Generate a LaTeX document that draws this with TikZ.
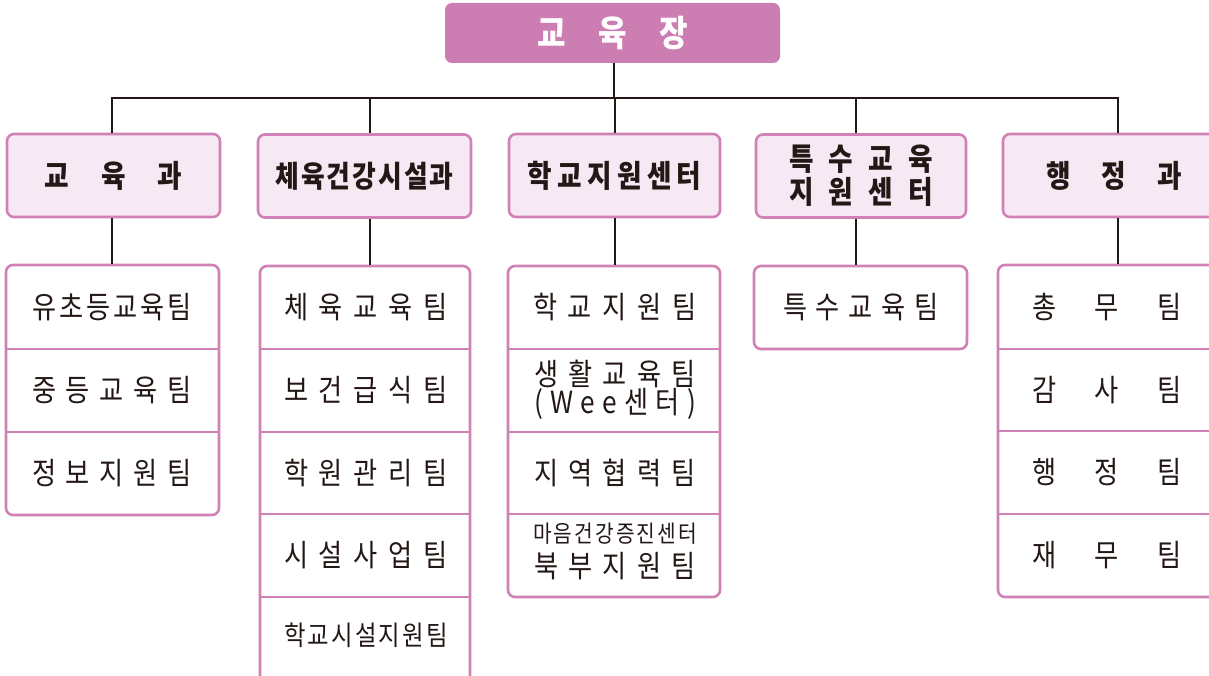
\documentclass[tikz,border=0pt]{standalone}
\usepackage{fontspec}
\setmainfont{Noto Sans CJK KR}[FakeStretch=0.86]
\definecolor{topc}{HTML}{CC7DB1}
\definecolor{bord}{HTML}{D081B6}
\definecolor{dfill}{HTML}{F6E9F4}
\definecolor{ink}{HTML}{231815}
\newcommand\sprd[2]{\makebox[#1][s]{#2}}
\begin{document}
\begin{tikzpicture}[x=1pt,y=-1pt,
  topbox/.style={fill=topc, rounded corners=7pt, inner sep=0pt, text=white,
    font=\fontsize{36}{40}\selectfont\bfseries},
  deptbox/.style={draw=bord, line width=2.6pt, fill=dfill, rounded corners=7pt,
    minimum height=83pt, inner sep=0pt, text=ink, font=\fontsize{31}{33}\selectfont\bfseries},
  colbox/.style={draw=bord, line width=2.6pt, rounded corners=7pt, inner sep=0pt, fill=white},
  team/.style={inner sep=0pt, text=ink, font=\fontsize{30.5}{34}\selectfont},
  conn/.style={draw=ink, line width=1.3pt},
  divline/.style={draw=bord, line width=2.6pt}]
\useasboundingbox (0,0) rectangle (1209,676);

\coordinate (j) at (614,98);
\coordinate (c1) at (112,98);
\coordinate (c2) at (370,98);
\coordinate (c3) at (615,98);
\coordinate (c4) at (856,98);
\coordinate (c5) at (1118,98);

% top
\node[topbox, minimum width=335pt, minimum height=60pt] (top) at (612.5,33)
  {\sprd{151pt}{교\hfill 육\hfill 장}};

% departments
\node[deptbox, minimum width=213pt] (d1) at (113.5,175.5)
  {\sprd{138pt}{교\hfill 육\hfill 과}};
\node[deptbox, minimum width=213pt, font=\fontsize{30}{33}\selectfont\bfseries] (d2) at (364.5,176)
  {\sprd{178pt}{체\hfill 육\hfill 건\hfill 강\hfill 시\hfill 설\hfill 과}};
\node[deptbox, minimum width=211pt] (d3) at (614.5,175.5)
  {\sprd{174pt}{학\hfill 교\hfill 지\hfill 원\hfill 센\hfill 터}};
\node[deptbox, minimum width=210pt, align=center] (d4) at (861,176)
  {\sprd{144pt}{특\hfill 수\hfill 교\hfill 육}\\\sprd{144pt}{지\hfill 원\hfill 센\hfill 터}};
\node[deptbox, minimum width=219pt] (d5) at (1112.5,175.5)
  {\hspace{3pt}\sprd{136pt}{행\hfill 정\hfill 과}};

% team columns
\node[colbox, minimum width=213pt, minimum height=250pt] (t1) at (112.5,390) {};
\node[colbox, minimum width=210pt, minimum height=424pt] (t2) at (365,478) {};
\node[colbox, minimum width=212pt, minimum height=331pt] (t3) at (614,431.5) {};
\node[colbox, minimum width=213pt, minimum height=83pt] (t4) at (860.5,307.5) {};
\node[colbox, minimum width=227pt, minimum height=332pt] (t5) at (1111.5,431) {};

% connectors
\draw[conn] (j |- top.south) -- (j);
\draw[conn] (c1 |- d1.north) -- (c1) -- (c5) -- (c5 |- d5.north);
\draw[conn] (c2) -- (c2 |- d2.north);
\draw[conn] (c3) -- (c3 |- d3.north);
\draw[conn] (c4) -- (c4 |- d4.north);
\draw[conn] (c1 |- d1.south) -- (c1 |- t1.north);
\draw[conn] (c2 |- d2.south) -- (c2 |- t2.north);
\draw[conn] (c3 |- d3.south) -- (c3 |- t3.north);
\draw[conn] (c4 |- d4.south) -- (c4 |- t4.north);
\draw[conn] (c5 |- d5.south) -- (c5 |- t5.north);

% dividers
\foreach \yy in {349,432} \draw[divline] (t1.west |- 0,\yy) -- (t1.east |- 0,\yy);
\foreach \yy in {349,432,514,597} \draw[divline] (t2.west |- 0,\yy) -- (t2.east |- 0,\yy);
\foreach \yy in {349,432,514} \draw[divline] (t3.west |- 0,\yy) -- (t3.east |- 0,\yy);
\foreach \yy in {349,431,514} \draw[divline] (t5.west |- 0,\yy) -- (t5.east |- 0,\yy);

% column 1
\node[team] (a1) at (112,307.5) {\sprd{160pt}{유\hfill 초\hfill 등\hfill 교\hfill 육\hfill 팀}};
\node[team] (a2) at (112,390.5) {\sprd{160pt}{중\hfill 등\hfill 교\hfill 육\hfill 팀}};
\node[team] (a3) at (112,473) {\sprd{160pt}{정\hfill 보\hfill 지\hfill 원\hfill 팀}};
% column 2
\node[team] (b1) at (366,307.5) {\sprd{164pt}{체\hfill 육\hfill 교\hfill 육\hfill 팀}};
\node[team] (b2) at (366,390.5) {\sprd{164pt}{보\hfill 건\hfill 급\hfill 식\hfill 팀}};
\node[team] (b3) at (366,473) {\sprd{164pt}{학\hfill 원\hfill 관\hfill 리\hfill 팀}};
\node[team] (b4) at (366,555.5) {\sprd{164pt}{시\hfill 설\hfill 사\hfill 업\hfill 팀}};
\node[team, font=\fontsize{27.2}{30}\selectfont] (b5) at (366,635) {\sprd{164pt}{학\hfill 교\hfill 시\hfill 설\hfill 지\hfill 원\hfill 팀}};
% column 3
\node[team] (e1) at (615,307.5) {\sprd{164pt}{학\hfill 교\hfill 지\hfill 원\hfill 팀}};
\node[team] (e2a) at (615,374) {\sprd{162pt}{생\hfill 활\hfill 교\hfill 육\hfill 팀}};
\node[team] (e2b) at (615,404) {\sprd{162pt}{(\hfill W\hfill e\hfill e\hfill 센\hfill 터\hfill )}};
\node[team] (e3) at (615,473) {\sprd{162pt}{지\hfill 역\hfill 협\hfill 력\hfill 팀}};
\node[team, font=\fontsize{23.6}{26}\selectfont] (e4a) at (615,534) {\sprd{164pt}{마\hfill 음\hfill 건\hfill 강\hfill 증\hfill 진\hfill 센\hfill 터}};
\node[team] (e4b) at (615,566) {\sprd{162pt}{북\hfill 부\hfill 지\hfill 원\hfill 팀}};
% column 4
\node[team] (f1) at (861,307.5) {\sprd{156pt}{특\hfill 수\hfill 교\hfill 육\hfill 팀}};
% column 5
\node[team] (g1) at (1107,307.5) {\sprd{150pt}{총\hfill 무\hfill 팀}};
\node[team] (g2) at (1107,390) {\sprd{150pt}{감\hfill 사\hfill 팀}};
\node[team] (g3) at (1107,472.5) {\sprd{150pt}{행\hfill 정\hfill 팀}};
\node[team] (g4) at (1107,555.5) {\sprd{150pt}{재\hfill 무\hfill 팀}};
\end{tikzpicture}
\end{document}
